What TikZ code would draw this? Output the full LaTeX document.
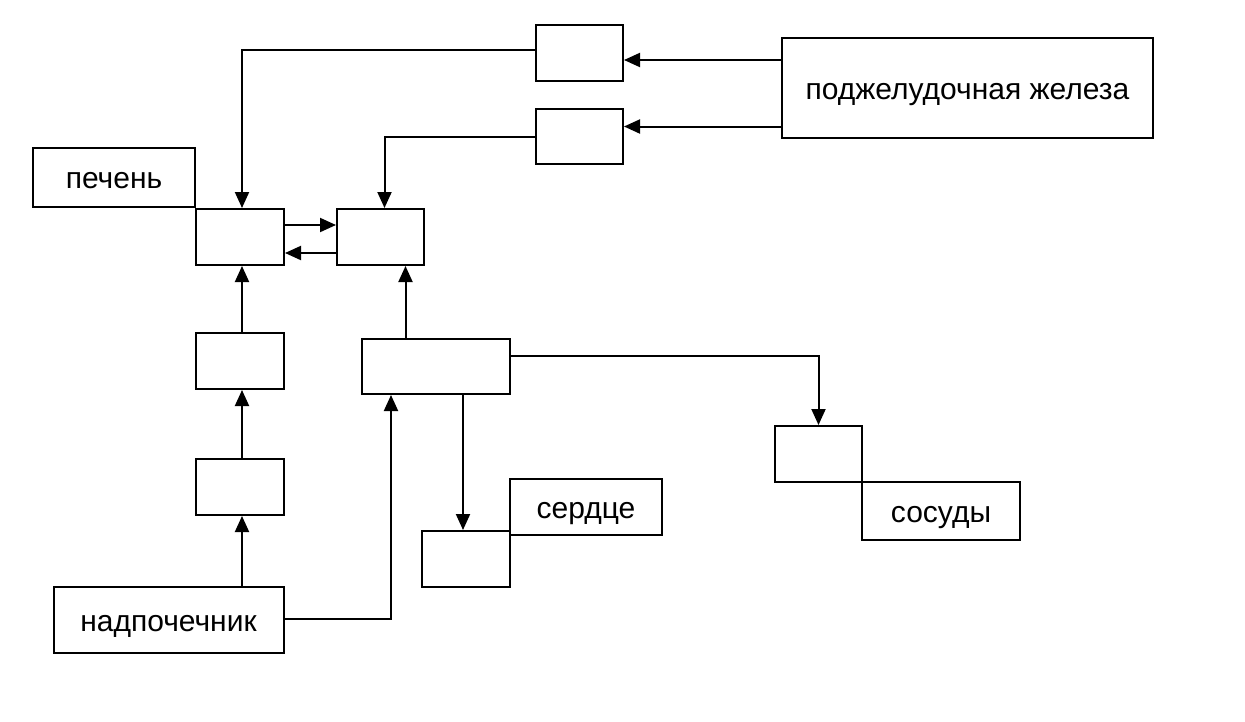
\documentclass[tikz,border=0pt]{standalone}
\usepackage{fontspec}
\setmainfont{Liberation Sans}
\usepackage{tikz}
\usetikzlibrary{arrows.meta}

\tikzset{
    box/.style={draw, line width=2pt, inner sep=0pt, text height=22pt, text depth=0pt, font=\fontsize{30}{36}\selectfont},
    arr/.style={line width=2pt, -{Triangle[length=16pt,width=14pt]}}
}

\begin{document}
\begin{tikzpicture}[x=1pt,y=-1pt]

\useasboundingbox (0,0) rectangle (1245,721);

% Top boxes
\node[box, minimum width=87pt, minimum height=56pt] (top1) at (579.5,53) {};
\node[box, minimum width=87pt, minimum height=55pt] (top2) at (579.5,136.5) {};
\node[box, minimum width=371pt, minimum height=100pt] (panc) at (967.5,88) {поджелудочная железа};

% Liver
\node[box, minimum width=162pt, minimum height=59pt] (liver) at (114,177.5) {печень};
\node[box, minimum width=88pt, minimum height=56pt] (L) at (240,237) {};
\node[box, minimum width=87pt, minimum height=56pt] (M) at (380.5,237) {};

% Left column
\node[box, minimum width=88pt, minimum height=56pt] (P) at (240,361) {};
\node[box, minimum width=88pt, minimum height=56pt] (Q) at (240,487) {};
\node[box, minimum width=230pt, minimum height=66pt] (adrenal) at (168.5,620) {надпочечник};

% Middle
\node[box, minimum width=148pt, minimum height=55pt] (R) at (436,366.5) {};
\node[box, minimum width=88pt, minimum height=56pt] (T) at (466,559) {};
\node[box, minimum width=152pt, minimum height=56pt] (heart) at (586,507) {сердце};

% Right
\node[box, minimum width=87pt, minimum height=56pt] (S) at (818.5,454) {};
\node[box, minimum width=158pt, minimum height=58pt] (vessels) at (941,511) {сосуды};

% Arrows from pancreas
\draw[arr] ([yshift=-7pt]top1.east -| panc.west) -- ([yshift=-7pt]top1.east);
\draw[arr] ([yshift=10pt]top2.east -| panc.west) -- ([yshift=10pt]top2.east);
\draw[arr] ([yshift=3pt]top1.west) -| ([xshift=2pt]L.north);
\draw[arr] (top2.west) -| ([xshift=4pt]M.north);

% Between L and M
\draw[arr] ([yshift=12pt]L.east) -- ([yshift=12pt]L.east -| M.west);
\draw[arr] ([yshift=-16pt]M.west) -- ([yshift=-16pt]M.west -| L.east);

% Left column
\draw[arr] ([xshift=2pt]P.north) -- ([xshift=2pt]L.south);
\draw[arr] ([xshift=2pt]Q.north) -- ([xshift=2pt]P.south);
\draw[arr] ([xshift=2pt]Q.south |- adrenal.north) -- ([xshift=2pt]Q.south);
\draw[arr] ([yshift=1pt]adrenal.east) -| ([xshift=-45pt]R.south);

% From R
\draw[arr] ([xshift=25pt]M.south |- R.north) -- ([xshift=25pt]M.south);
\draw[arr] ([yshift=11pt]R.east) -| (S.north);
\draw[arr] ([xshift=-3pt]T.north |- R.south) -- ([xshift=-3pt]T.north);

\end{tikzpicture}
\end{document}
